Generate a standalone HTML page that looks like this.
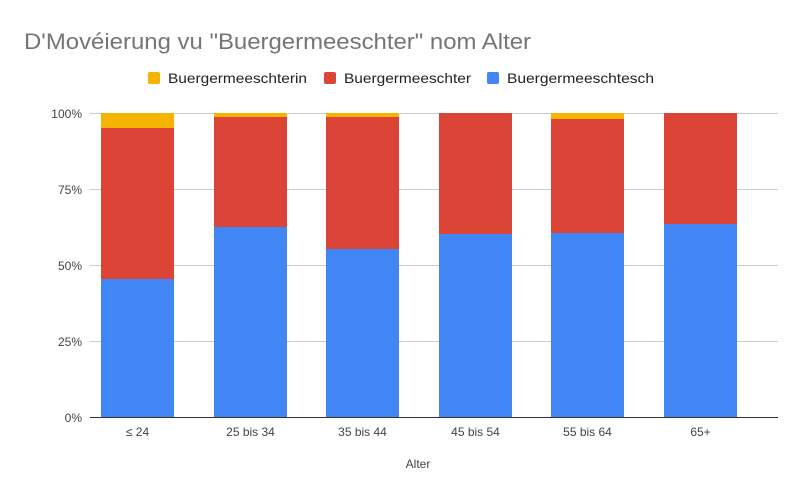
<!DOCTYPE html>
<html><head><meta charset="utf-8"><style>body{margin:0;background:#fff}</style></head><body>
<svg width="801" height="496" xmlns="http://www.w3.org/2000/svg" font-family="Liberation Sans, Arial, sans-serif">
<rect width="801" height="496" fill="#fff"/>
<text x="24" y="49" font-size="22" fill="#757575" textLength="507" lengthAdjust="spacingAndGlyphs">D'Movéierung vu "Buergermeeschter" nom Alter</text>
<rect x="148" y="72" width="12" height="12" rx="2" fill="#f4b400"/>
<text x="168" y="83" font-size="14" fill="#222" textLength="139" lengthAdjust="spacingAndGlyphs">Buergermeeschterin</text>
<rect x="324" y="72" width="12" height="12" rx="2" fill="#db4437"/>
<text x="344" y="83" font-size="14" fill="#222" textLength="127" lengthAdjust="spacingAndGlyphs">Buergermeeschter</text>
<rect x="487" y="72" width="12" height="12" rx="2" fill="#4285f4"/>
<text x="507" y="83" font-size="14" fill="#222" textLength="147" lengthAdjust="spacingAndGlyphs">Buergermeeschtesch</text>
<g stroke="#ccc" stroke-width="1">
<line x1="90" y1="113.5" x2="778" y2="113.5"/>
<line x1="90" y1="189.5" x2="778" y2="189.5"/>
<line x1="90" y1="265.5" x2="778" y2="265.5"/>
<line x1="90" y1="341.5" x2="778" y2="341.5"/>
</g>
<g font-size="12" fill="#444" text-anchor="end">
<text x="82" y="118">100%</text><text x="82" y="194">75%</text><text x="82" y="270">50%</text><text x="82" y="346">25%</text><text x="82" y="422">0%</text>
</g>
<g>
<rect x="101" y="113" width="73" height="15" fill="#f4b400"/><rect x="101" y="128" width="73" height="151" fill="#db4437"/><rect x="101" y="279" width="73" height="138" fill="#4285f4"/>
<rect x="214" y="113" width="73" height="4" fill="#f4b400"/><rect x="214" y="117" width="73" height="110" fill="#db4437"/><rect x="214" y="227" width="73" height="190" fill="#4285f4"/>
<rect x="326" y="113" width="73" height="4" fill="#f4b400"/><rect x="326" y="117" width="73" height="132" fill="#db4437"/><rect x="326" y="249" width="73" height="168" fill="#4285f4"/>
<rect x="439" y="113" width="73" height="121" fill="#db4437"/><rect x="439" y="234" width="73" height="183" fill="#4285f4"/>
<rect x="551" y="113" width="73" height="6" fill="#f4b400"/><rect x="551" y="119" width="73" height="114" fill="#db4437"/><rect x="551" y="233" width="73" height="184" fill="#4285f4"/>
<rect x="664" y="113" width="73" height="111" fill="#db4437"/><rect x="664" y="224" width="73" height="193" fill="#4285f4"/>
</g>
<line x1="90" y1="417.5" x2="778" y2="417.5" stroke="#333" stroke-width="1"/>
<g font-size="12" fill="#444" text-anchor="middle">
<text x="137.5" y="436">≤ 24</text><text x="250.5" y="436">25 bis 34</text><text x="362.5" y="436">35 bis 44</text><text x="475.5" y="436">45 bis 54</text><text x="587.5" y="436">55 bis 64</text><text x="700.5" y="436">65+</text>
<text x="418" y="468">Alter</text>
</g>
</svg>
</body></html>
